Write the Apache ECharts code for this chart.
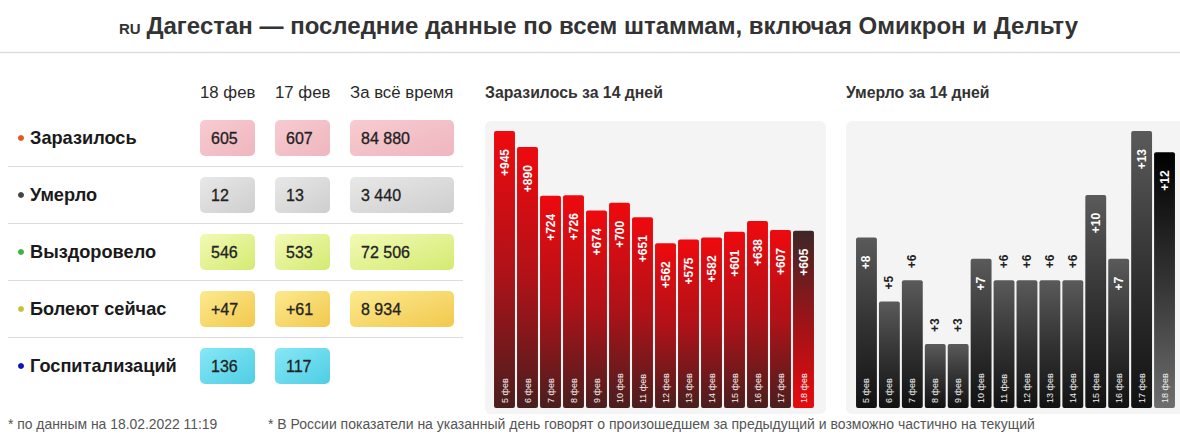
<!DOCTYPE html>
<html><head><meta charset="utf-8">
<script src="https://cdn.jsdelivr.net/npm/echarts@6/dist/echarts.min.js"></script>
<style>html,body{margin:0;padding:0;background:#fff}#c{width:1180px;height:438px}</style>
</head><body><div id="c"></div>
<script>
// ---- data ----
const titleMain = 'Дагестан — последние данные по всем штаммам, включая Омикрон и Дельту';
const titlePrefix = 'RU';
const colHeaders = ['18 фев', '17 фев', 'За всё время'];
const rowLabels = ['Заразилось', 'Умерло', 'Выздоровело', 'Болеют сейчас', 'Госпитализаций'];
const todayVals = ['605', '12', '546', '+47', '136'];
const yesterdayVals = ['607', '13', '533', '+61', '117'];
const totalVals = ['84 880', '3 440', '72 506', '8 934', ''];
const dates = ['5 фев', '6 фев', '7 фев', '8 фев', '9 фев', '10 фев', '11 фев', '12 фев', '13 фев', '14 фев', '15 фев', '16 фев', '17 фев', '18 фев'];
const infected = [945, 890, 724, 726, 674, 700, 651, 562, 575, 582, 601, 638, 607, 605];
const deaths = [8, 5, 6, 3, 3, 7, 6, 6, 6, 6, 10, 7, 13, 12];
const chartTitles = ['Заразилось за 14 дней', 'Умерло за 14 дней'];
const footNotes = ['* по данным на 18.02.2022 11:19', '* В России показатели на указанный день говорят о произошедшем за предыдущий и возможно частично на текущий'];

// ---- styles ----
const FONT = '"Liberation Sans", Arial, sans-serif';
const bulletColors = ['#e8541e', '#444444', '#3cb43c', '#c4c43a', '#1010c8'];
const boxGrads = [
  ['#f7cbd1', '#efb6be'],
  ['#e8e8e8', '#cecece'],
  ['#f2fab4', '#d4ea72'],
  ['#fcea8e', '#f2c84e'],
  ['#86e8f6', '#4fcde4']
];
function lg(x2, y2, stops) {
  return new echarts.graphic.LinearGradient(0, 0, x2, y2, stops.map((c, i) => ({offset: i / (stops.length - 1), color: c})));
}
const redGrad = lg(0, 1, ['#ee0a0e', '#b01218', '#4a1e1e']);
const redLast = lg(0, 1, ['#3e2626', '#9a1418', '#e80a0e']);
const grayGrad = lg(0, 1, ['#5a5a5a', '#333333', '#121212']);
const grayLast = lg(0, 1, ['#000000', '#333333', '#6e6e6e']);

const colX = [200, 275, 350];
const colW = [55, 55, 104];
const rowY0 = 138, rowStep = 57;

const graphics = [];
// title
graphics.push({type: 'text', x: 119, y: 28.5, style: {
  text: titlePrefix, align: 'left', verticalAlign: 'middle', fontSize: 15, fontWeight: 'bold', fill: '#333', fontFamily: FONT
}});
graphics.push({type: 'text', x: 1078, y: 25, style: {
  text: titleMain, align: 'right', verticalAlign: 'middle', fontSize: 24, fontWeight: 'bold', fill: '#333', fontFamily: FONT
}});
graphics.push({type: 'line', shape: {x1: 0, y1: 52.5, x2: 1180, y2: 52.5}, style: {stroke: '#dedede', lineWidth: 1.5}});
// headers
colHeaders.forEach((h, i) => graphics.push({type: 'text', x: colX[i], y: 92, style: {text: h, fontSize: 16.8, fill: '#2a2a2a', fontFamily: FONT, verticalAlign: 'middle'}}));
// rows
const cols = [todayVals, yesterdayVals, totalVals];
rowLabels.forEach((lab, r) => {
  const cy = rowY0 + r * rowStep;
  graphics.push({type: 'circle', shape: {cx: 21, cy: cy, r: 3}, style: {fill: bulletColors[r]}});
  graphics.push({type: 'text', x: 30, y: cy, style: {text: lab, fontSize: 18.2, fontWeight: 'bold', fill: '#1a1a1a', fontFamily: FONT, verticalAlign: 'middle'}});
  cols.forEach((col, c) => {
    if (!col[r]) return;
    graphics.push({type: 'rect', shape: {x: colX[c], y: cy - 18, width: colW[c], height: 36, r: 5}, style: {fill: lg(1, 1, boxGrads[r])}});
    graphics.push({type: 'text', x: colX[c] + 11, y: cy, style: {text: col[r], fontSize: 16, fill: '#222', fontFamily: FONT, verticalAlign: 'middle', stroke: '#222', lineWidth: 0.3}});
  });
  if (r < rowLabels.length - 1) {
    graphics.push({type: 'line', shape: {x1: 8, y1: cy + 28.5, x2: 463, y2: cy + 28.5}, style: {stroke: '#dddddd', lineWidth: 1.2}});
  }
});
// chart panels and titles
graphics.push({type: 'rect', shape: {x: 485, y: 121, width: 341, height: 293, r: 6}, style: {fill: '#f4f4f4'}});
graphics.push({type: 'rect', shape: {x: 846, y: 121, width: 345, height: 293, r: 6}, style: {fill: '#f4f4f4'}});
graphics.push({type: 'text', x: 485, y: 92, style: {text: chartTitles[0], fontSize: 15.8, fontWeight: 'bold', fill: '#333', fontFamily: FONT, verticalAlign: 'middle'}});
graphics.push({type: 'text', x: 846, y: 92, style: {text: chartTitles[1], fontSize: 15.8, fontWeight: 'bold', fill: '#333', fontFamily: FONT, verticalAlign: 'middle'}});
// footnotes
graphics.push({type: 'text', x: 8, y: 424, style: {text: footNotes[0], fontSize: 13.9, fill: '#555', fontFamily: FONT, verticalAlign: 'middle'}});
graphics.push({type: 'text', x: 268, y: 424, style: {text: footNotes[1], fontSize: 14, fill: '#555', fontFamily: FONT, verticalAlign: 'middle'}});

const xAxisCommon = {
  type: 'category', data: dates, z: 5,
  axisLine: {show: false}, axisTick: {show: false}, splitLine: {show: false},
  axisLabel: {inside: true, rotate: 90, margin: 5, color: '#f0f0f0', fontSize: 9, fontFamily: FONT, interval: 0}
};
const yAxisCommon = {type: 'value', min: 0, max: 'dataMax', show: false, splitLine: {show: false}};

const insideLabel = {show: true, position: 'insideTop', rotate: 90, align: 'right', verticalAlign: 'middle', distance: 18,
  formatter: '+{c}', color: '#fff', fontWeight: 'bold', fontSize: 12, fontFamily: FONT};
const outsideLabel = {show: true, position: 'top', rotate: 90, align: 'left', verticalAlign: 'middle', distance: 12,
  formatter: '+{c}', color: '#222', fontWeight: 'bold', fontSize: 12, fontFamily: FONT};

const chart = echarts.init(document.getElementById('c'), null, {renderer: 'svg'});
chart.setOption({
  animation: false,
  graphic: graphics,
  grid: [
    {left: 493, top: 131, width: 322, height: 277},
    {left: 855, top: 131, width: 321, height: 277}
  ],
  xAxis: [Object.assign({gridIndex: 0}, xAxisCommon), Object.assign({gridIndex: 1}, xAxisCommon)],
  yAxis: [Object.assign({gridIndex: 0}, yAxisCommon), Object.assign({gridIndex: 1}, yAxisCommon)],
  series: [
    {type: 'bar', xAxisIndex: 0, yAxisIndex: 0, barCategoryGap: '9%',
      itemStyle: {color: redGrad, borderRadius: 2},
      label: insideLabel,
      data: infected.map((v, i) => i === infected.length - 1 ? {value: v, itemStyle: {color: redLast}} : v)},
    {type: 'bar', xAxisIndex: 1, yAxisIndex: 1, barCategoryGap: '9%',
      itemStyle: {color: grayGrad, borderRadius: 2},
      label: insideLabel,
      data: deaths.map((v, i) => {
        const d = {value: v};
        if (i === deaths.length - 1) d.itemStyle = {color: grayLast};
        if (v < 7) d.label = outsideLabel;
        return d;
      })}
  ]
});
</script></body></html>
